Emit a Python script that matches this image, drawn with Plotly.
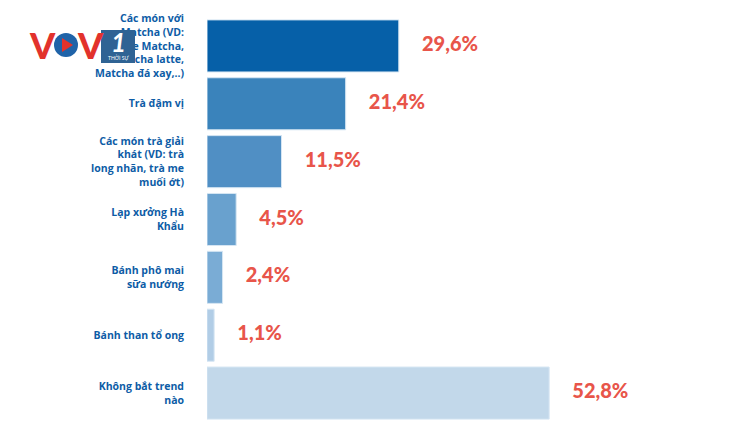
import plotly.graph_objects as go

categories = [
    "Các món với<br>Matcha (VD:<br>Cake Matcha,<br>Matcha latte,<br>Matcha đá xay,..)",
    "Trà đậm vị",
    "Các món trà giải<br>khát (VD: trà<br>long nhãn, trà me<br>muối ớt)",
    "Lạp xưởng Hà<br>Khẩu",
    "Bánh phô mai<br>sữa nướng",
    "Bánh than tổ ong",
    "Không bắt trend<br>nào",
]
values = [29.6, 21.4, 11.5, 4.5, 2.4, 1.1, 52.8]
bar_colors = ["#0660a8", "#3a83bb", "#508fc4", "#69a1ce", "#7aacd5", "#b1cde6", "#c2d8ea"]

W, H = 750, 422
ML, MT = 207, 17

fig = go.Figure(go.Bar(
    x=values, y=categories, orientation="h",
    marker=dict(color=bar_colors, line=dict(color="#d6e6f3", width=1)),
    hoverinfo="skip",
))

# nhãn phần trăm bên phải thanh
labels = ["\u2007\u2007" + f"{v:.1f}%".replace(".", ",") for v in values]
fig.add_trace(go.Scatter(
    x=values, y=categories, mode="text", text=labels, textposition="middle right",
    textfont=dict(family="Lato", size=20, color="#e8554a", weight=900),
    hoverinfo="skip", cliponaxis=False,
))

fig.update_yaxes(
    autorange="reversed", ticks="", ticklabelstandoff=22,
    tickfont=dict(family="Open Sans", size=10.5, color="#0d5ca6", weight="bold"),
    showgrid=False, zeroline=False, showline=False,
)
fig.update_xaxes(range=[0, 83.8], visible=False)


# logo VOV1 (toạ độ pixel -> paper)
def px(x):
    return (x - ML) / (W - ML)


def py(y):
    return (H - y) / (H - MT)


for cx in (42, 90):
    fig.add_annotation(x=px(cx), y=py(45), xref="paper", yref="paper", text="V", showarrow=False,
                       xanchor="center", yanchor="middle",
                       font=dict(family="Lato", size=36, color="#e2322c", weight=900))
fig.add_shape(type="circle", xref="paper", yref="paper", x0=px(54), x1=px(78), y0=py(57), y1=py(33),
              fillcolor="#1f63a8", line_width=0, layer="above")
fig.add_shape(type="path", xref="paper", yref="paper", layer="above", line_width=0, fillcolor="#e2322c",
              path=f"M {px(62)} {py(38)} L {px(62)} {py(52)} L {px(73)} {py(45)} Z")
fig.add_shape(type="rect", xref="paper", yref="paper", x0=px(101), x1=px(135), y0=py(63), y1=py(30),
              fillcolor="#2f6394", line_width=0, layer="above")
fig.add_annotation(x=px(118), y=py(42), xref="paper", yref="paper", text="<i>1</i>", showarrow=False,
                   xanchor="center", yanchor="middle",
                   font=dict(family="Lato", size=26, color="white", weight="bold"))
fig.add_annotation(x=px(118), y=py(58), xref="paper", yref="paper", text="THỜI SỰ", showarrow=False,
                   xanchor="center", yanchor="middle",
                   font=dict(family="Lato", size=5, color="white"))

fig.update_layout(
    width=W, height=H, bargap=0.1, showlegend=False,
    margin=dict(l=ML, r=0, t=MT, b=0),
    plot_bgcolor="white", paper_bgcolor="white",
)
fig.write_html("out.html", config={"displayModeBar": False},
               post_script="document.body.style.margin='0';")
